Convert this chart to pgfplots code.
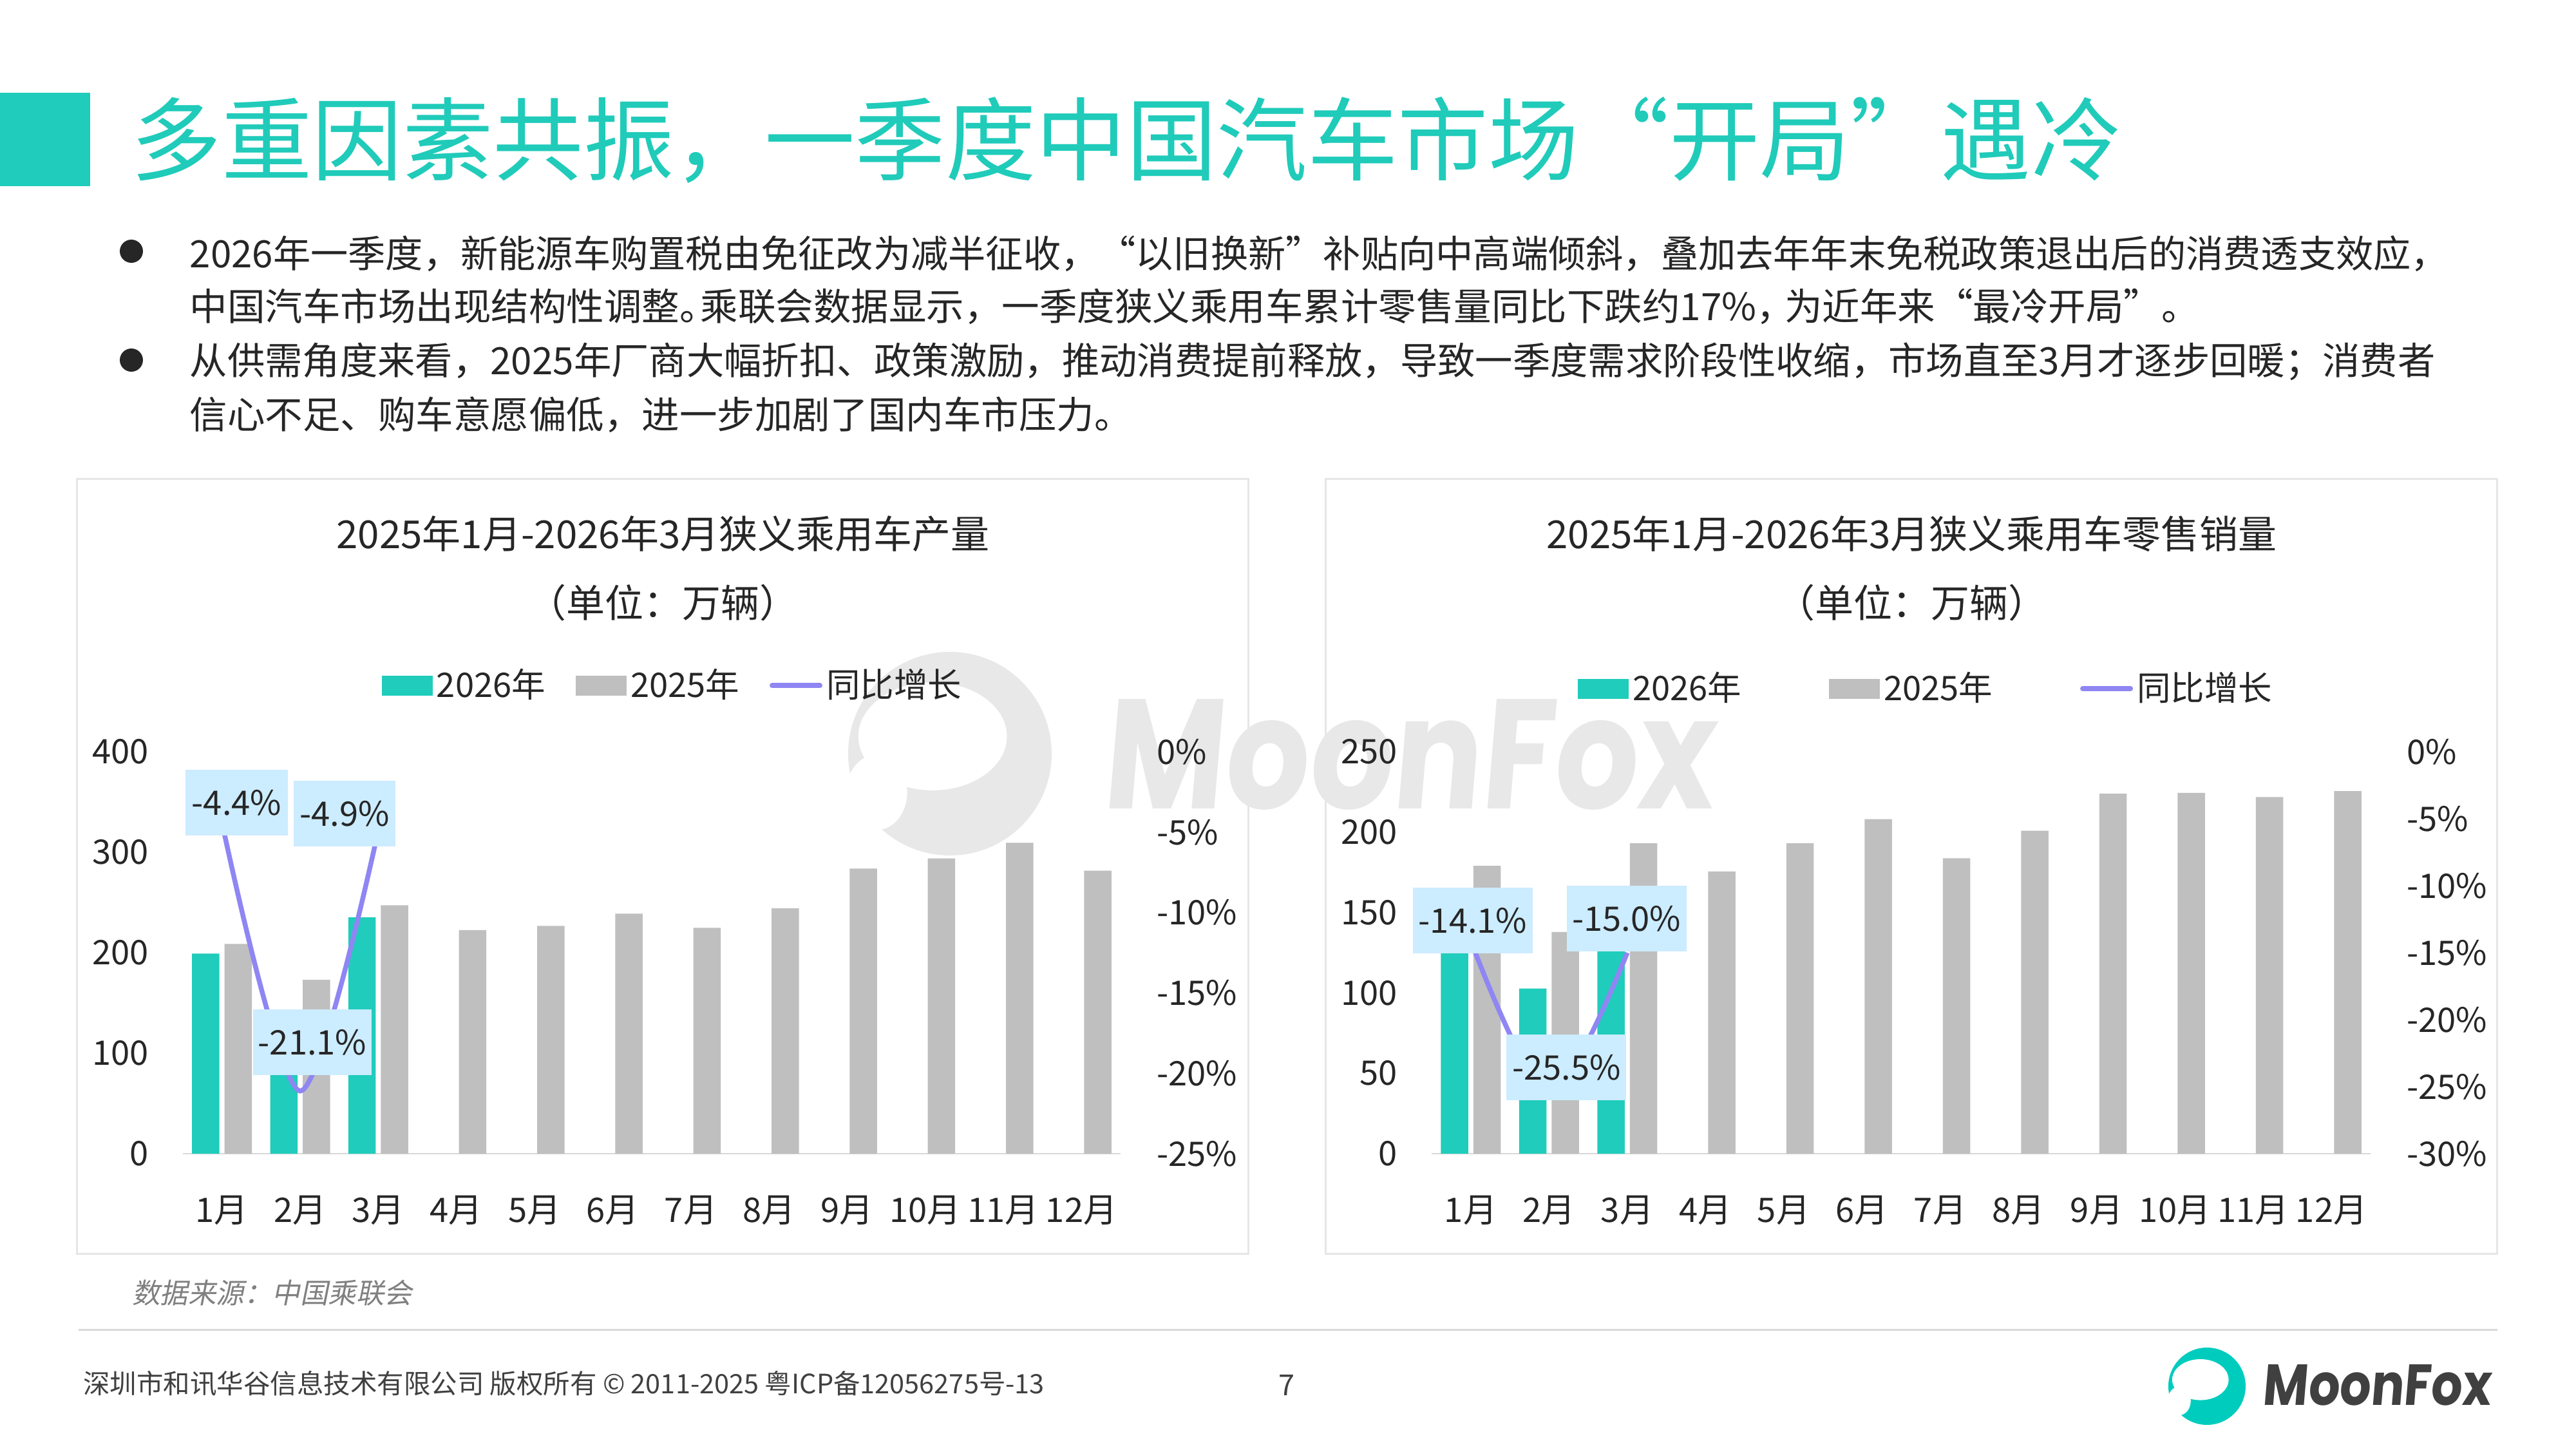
\documentclass[border=0pt]{standalone}
\usepackage{fontspec}
\setmainfont{Noto Sans CJK SC}
\newfontfamily\slfont{Noto Sans CJK SC}[FakeSlant=0.2]
\newfontfamily\logofont{Poppins}[FakeSlant=0.1]
\usepackage{graphicx}
\usepackage{pgfplots}
\pgfplotsset{compat=1.18}

\definecolor{mteal}{HTML}{20CCBB}
\definecolor{titleteal}{HTML}{20CBBA}
\definecolor{logoteal}{HTML}{00CCBE}
\definecolor{mgray}{HTML}{BFBFBF}
\definecolor{mpurple}{HTML}{8F86F3}
\definecolor{lblblue}{HTML}{CCECFF}
\definecolor{txt}{HTML}{262626}
\definecolor{foot}{HTML}{404040}
\definecolor{wm}{HTML}{E8E8E8}
\definecolor{panelc}{HTML}{E6E6E6}
\definecolor{axgray}{HTML}{D9D9D9}

\newcommand{\fs}[1]{\fontsize{#1}{#1}\selectfont}

\tikzset{
  lbl/.style={fill=lblblue, text=txt, font=\fs{10.5}, inner sep=0pt,
    minimum height=20.4pt, anchor=center},
}
\pgfplotsset{
  base/.style={
    scale only axis, height=124.8pt,
    xmin=-0.5, xmax=11.5, clip=false,
    tick style={draw=none},
    tick label style={font=\fs{10.5}, text=txt},
    /pgf/number format/assume math mode=true,
  },
  bars/.style={
    base, ybar=1.6pt, bar width=8.5pt,
    axis x line*=bottom, axis y line*=left,
    x axis line style={draw=axgray, line width=0.45pt, -},
    y axis line style={draw=none},
    xtick={0,...,11},
    xticklabels={1月,2月,3月,4月,5月,6月,7月,8月,9月,10月,11月,12月},
    xticklabel style={anchor=center, inner sep=0pt, yshift=-13.4pt},
    yticklabel style={anchor=east, inner sep=0pt, xshift=-10.4pt},
  },
  rline/.style={
    base, axis y line*=right, axis x line=none,
    y axis line style={draw=none},
    xtick=\empty,
    yticklabel style={anchor=west, inner sep=0pt, xshift=11.0pt},
    legend columns=3,
  },
}

\newcommand{\logo}[4]{% cx cy R colour (pixel units)
  \fill[#4] (#1,#2) circle (#3);
  \fill[white] ({#1-0.17*#3},{#2-0.17*#3}) ellipse ({0.73*#3} and {0.53*#3});
  \fill[white] ({#1-0.72*#3},{#2+0.38*#3}) ellipse ({0.3*#3} and {0.37*#3});
}

\begin{document}
\begin{tikzpicture}
\useasboundingbox (0,0) rectangle (800pt,-450pt);
\fill[white] (0,0) rectangle (800pt,-450pt);
\begin{scope}[x=0.2pt,y=-0.2pt]
  % title block
  \fill[mteal] (0,144) rectangle (140,289);
  \node[anchor=west, inner sep=0pt, text=titleteal, font=\fs{28.1}] at (203,217)
    {多重因素共振，一季度中国汽车市场“开局”遇冷};
  % bullets
  \fill[txt] (204,390) circle (18);
  \fill[txt] (204,559) circle (18);
  \begin{scope}[every node/.style={anchor=west, inner sep=0pt, text=txt, font=\fs{11.7}}]
    \node at (294,394) {\scalebox{0.9955}[1]{2026年一季度，新能源车购置税由免征改为减半征收，“以旧换新”补贴向中高端倾斜，叠加去年年末免税政策退出后的消费透支效应，}};
    \node at (294,476) {中国汽车市场出现结构性调整。\kern-0.45em 乘联会数据显示，一季度狭义乘用车累计零售量同比下跌约17\%，\kern-0.25em 为近年来“最冷开局”。};
    \node at (294,561) {\scalebox{0.997}[1]{从供需角度来看，2025年厂商大幅折扣、政策激励，推动消费提前释放，导致一季度需求阶段性收缩，市场直至3月才逐步回暖；消费者}};
    \node at (294,644) {信心不足、购车意愿偏低，进一步加剧了国内车市压力。};
  \end{scope}
  % panels
  \draw[panelc, line width=0.6pt] (120,743) rectangle (1939,1946);
  \draw[panelc, line width=0.6pt] (2059,743) rectangle (3878,1946);
  % watermark
  \logo{1475}{1170}{158}{wm}
  \node[anchor=south west, inner sep=0pt, text=wm] at (1710,1258)
    {\resizebox{189.8pt}{34pt}{\logofont\bfseries MoonFox}};
  % chart titles
  \begin{scope}[every node/.style={inner sep=0pt, text=txt, font=\fs{12}}]
    \node at (1029.5,829) {2025年1月-2026年3月狭义乘用车产量};
    \node at (1029.5,936) {（单位：万辆）};
    \node at (2968.5,829) {2025年1月-2026年3月狭义乘用车零售销量};
    \node at (2968.5,936) {（单位：万辆）};
  \end{scope}
  % source + footer
  \node[anchor=west, inner sep=0pt, text=black!50, font=\fs{8.7}\slfont] at (204,2007) {数据来源：中国乘联会};
  \draw[axgray, line width=0.6pt] (122,2064) -- (3878,2064);
  \node[anchor=west, inner sep=0pt, text=foot, font=\fs{8.3}] at (128,2148)
    {深圳市和讯华谷信息技术有限公司 版权所有 © 2011-2025 粤ICP备12056275号-13};
  \node[inner sep=0pt, text=foot, font=\fs{9}] at (1998,2150) {7};
  \logo{3427}{2152}{60}{logoteal}
  \node[anchor=south west, inner sep=0pt, text=foot] at (3512,2183)
    {\resizebox{70.8pt}{12.6pt}{\logofont\bfseries MoonFox}};
\end{scope}

% ---------- left chart: production ----------
\begin{axis}[bars, at={(56.8pt,-358.2pt)}, anchor=south west, width=291.2pt,
  ymin=0, ymax=400, ytick={0,100,200,300,400}]
\addplot[fill=mteal, draw=none] coordinates {(0,199.1) (1,136.5) (2,235.2)};
\addplot[fill=mgray, draw=none] coordinates {(0,208.7) (1,173.0) (2,247.2) (3,222.6) (4,226.7) (5,238.9) (6,224.7) (7,244.1) (8,283.7) (9,293.8) (10,309.4) (11,281.6)};
\end{axis}
\begin{axis}[rline, at={(56.8pt,-358.2pt)}, anchor=south west, width=291.2pt,
  ymin=-25, ymax=0, ytick={-25,-20,-15,-10,-5,0},
  yticklabels={-25\%,-20\%,-15\%,-10\%,-5\%,0\%},
  legend style={at={(0.2115,1.165)}, anchor=west, draw=none, fill=none,
    inner sep=0pt, font=\fs{10.5}, text=txt, nodes={inner sep=0pt},
    /tikz/every odd column/.append style={column sep=1.2pt},
    /tikz/every even column/.append style={column sep=9.4pt}}]
\addlegendimage{fill=mteal, draw=none, legend image code/.code={\fill (0pt,-3.1pt) rectangle (15.8pt,3.1pt);}}
\addlegendimage{fill=mgray, draw=none, legend image code/.code={\fill (0pt,-3.1pt) rectangle (15.8pt,3.1pt);}}
\addlegendimage{draw=mpurple, line width=1.6pt, line cap=round, legend image code/.code={\draw (0.8pt,0pt) -- (15.6pt,0pt);}}
\addplot[forget plot, smooth, draw=mpurple, line width=1.5pt, no marks] coordinates {(0,-4.4) (1,-21.1) (2,-4.9)};
\legend{2026年,2025年,同比增长}
\node[lbl, minimum width=31.8pt] at (axis cs:0.188,-3.18) {-4.4\%};
\node[lbl, minimum width=31.6pt] at (axis cs:1.569,-3.86) {-4.9\%};
\node[lbl, minimum width=36.8pt] at (axis cs:1.157,-18.08) {-21.1\%};
\end{axis}

% ---------- right chart: retail ----------
\begin{axis}[bars, at={(444.6pt,-358.2pt)}, anchor=south west, width=291.6pt,
  ymin=0, ymax=250, ytick={0,50,100,150,200,250}]
\addplot[fill=mteal, draw=none] coordinates {(0,153.8) (1,102.7) (2,164.1)};
\addplot[fill=mgray, draw=none] coordinates {(0,179.0) (1,137.9) (2,193.1) (3,175.5) (4,193.1) (5,208.1) (6,183.8) (7,200.9) (8,223.9) (9,224.4) (10,221.8) (11,225.5)};
\end{axis}
\begin{axis}[rline, at={(444.6pt,-358.2pt)}, anchor=south west, width=291.6pt,
  ymin=-30, ymax=0, ytick={-30,-25,-20,-15,-10,-5,0},
  yticklabels={-30\%,-25\%,-20\%,-15\%,-10\%,-5\%,0\%},
  legend style={at={(0.155,1.157)}, anchor=west, draw=none, fill=none,
    inner sep=0pt, font=\fs{10.5}, text=txt, nodes={inner sep=0pt},
    /tikz/every odd column/.append style={column sep=1.2pt},
    /tikz/every even column/.append style={column sep=27.2pt}}]
\addlegendimage{fill=mteal, draw=none, legend image code/.code={\fill (0pt,-3.1pt) rectangle (15.8pt,3.1pt);}}
\addlegendimage{fill=mgray, draw=none, legend image code/.code={\fill (0pt,-3.1pt) rectangle (15.8pt,3.1pt);}}
\addlegendimage{draw=mpurple, line width=1.6pt, line cap=round, legend image code/.code={\draw (0.8pt,0pt) -- (15.6pt,0pt);}}
\addplot[forget plot, smooth, draw=mpurple, line width=1.5pt, no marks] coordinates {(0,-14.1) (1,-25.5) (2,-15.0)};
\legend{2026年,2025年,同比增长}
\node[lbl, minimum width=37.2pt] at (axis cs:0.027,-12.59) {-14.1\%};
\node[lbl, minimum width=37.2pt] at (axis cs:1.99,-12.47) {-15.0\%};
\node[lbl, minimum width=37.2pt] at (axis cs:1.224,-23.57) {-25.5\%};
\end{axis}
\end{tikzpicture}
\end{document}
